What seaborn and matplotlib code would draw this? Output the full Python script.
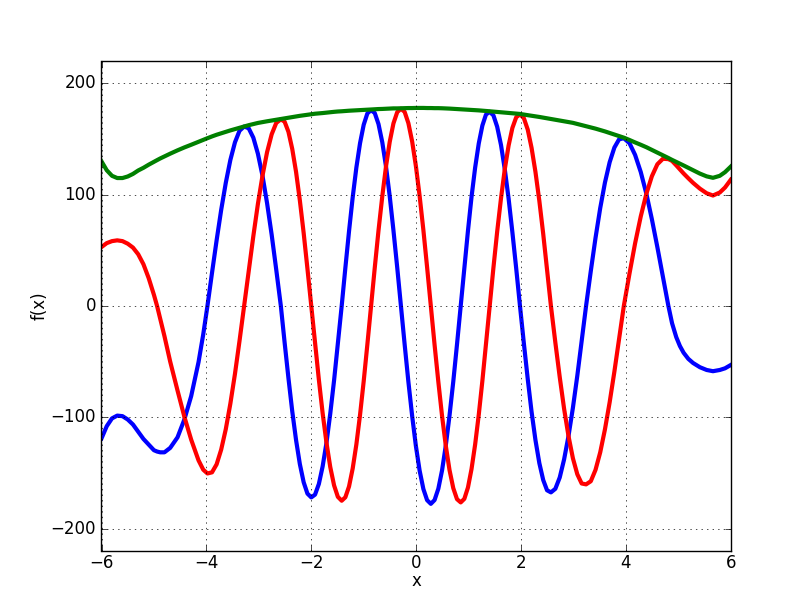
import matplotlib
matplotlib.use("Agg")
import matplotlib.pyplot as plt
import seaborn as sns
import pandas as pd

# x positions where the curves were read
x_vals = [-6.00, -5.90, -5.80, -5.70, -5.60, -5.50, -5.40, -5.30, -5.20, -5.10,
          -5.00, -4.94, -4.88, -4.80, -4.69, -4.55, -4.42, -4.29, -4.15, -4.06,
          -3.98, -3.893, -3.805, -3.718, -3.63, -3.543, -3.455, -3.368, -3.28, -3.193,
          -3.105, -3.018, -2.93, -2.843, -2.755, -2.668, -2.58, -2.508, -2.435, -2.363,
          -2.29, -2.218, -2.145, -2.073, -2.00, -1.928, -1.855, -1.783, -1.71, -1.638,
          -1.565, -1.493, -1.42, -1.35, -1.28, -1.21, -1.14, -1.07, -1.00, -0.93,
          -0.86, -0.789, -0.718, -0.646, -0.575, -0.504, -0.433, -0.361, -0.29, -0.219,
          -0.148, -0.076, -0.005, 0.066, 0.138, 0.209, 0.28, 0.351, 0.423, 0.494,
          0.565, 0.636, 0.708, 0.779, 0.85, 0.919, 0.988, 1.056, 1.125, 1.194,
          1.263, 1.331, 1.40, 1.473, 1.545, 1.618, 1.69, 1.763, 1.835, 1.908,
          1.98, 2.054, 2.128, 2.201, 2.275, 2.349, 2.423, 2.496, 2.57, 2.654,
          2.738, 2.821, 2.905, 2.989, 3.073, 3.156, 3.24, 3.33, 3.42, 3.51,
          3.60, 3.69, 3.78, 3.87, 3.96, 4.068, 4.175, 4.283, 4.39, 4.495,
          4.60, 4.705, 4.81, 4.88, 4.96, 5.03, 5.10, 5.19, 5.28, 5.41,
          5.54, 5.66, 5.79, 5.89, 6.00]

# blue curve
blue_vals = [-119.0, -108.0, -101.0, -98.5, -99.0, -102.0, -106.5, -113.0, -119.5, -124.5,
             -129.6, -130.8, -131.5, -131.5, -127.5, -118.0, -102.0, -81.0, -50.5, -25.5,
             0.0, 29.7, 59.0, 86.3, 110.7, 131.2, 147.1, 157.5, 161.3, 159.7,
             151.3, 136.9, 117.1, 92.5, 64.0, 32.7, 0.0, -32.9, -64.9, -94.5,
             -120.5, -142.0, -158.4, -168.6, -172.0, -169.5, -159.9, -144.1, -122.9, -96.8,
             -66.8, -34.1, 0.0, 34.2, 67.2, 97.7, 124.4, 146.3, 162.9, 173.1,
             176.0, 173.4, 163.5, 147.2, 125.4, 98.7, 68.0, 34.6, 0.0, -34.7,
             -68.1, -98.9, -125.8, -147.9, -164.5, -174.5, -177.8, -174.4, -164.2, -147.7,
             -125.5, -98.6, -67.9, -34.5, 0.0, 34.5, 67.6, 98.0, 124.4, 146.1,
             162.2, 172.0, 174.5, 171.4, 161.1, 144.7, 122.9, 96.5, 66.3, 33.7,
             0.0, -33.6, -65.7, -95.1, -120.5, -141.2, -156.4, -165.6, -167.5, -164.3,
             -154.1, -137.9, -116.9, -91.5, -62.7, -31.7, 0.0, 31.3, 61.1, 88.0,
             110.9, 129.2, 142.4, 149.8, 150.8, 146.3, 135.8, 120.4, 100.9, 78.0,
             52.8, 26.4, 0.0, -15.5, -28.0, -36.0, -42.0, -47.5, -51.2, -55.0,
             -57.5, -58.6, -57.5, -56.0, -53.0]

# red curve
red_vals = [53.0, 56.5, 58.3, 59.0, 58.3, 56.0, 52.5, 46.5, 37.5, 25.0,
            10.0, 0.0, -11.5, -27.0, -50.0, -76.0, -99.5, -120.1, -138.7, -147.1,
            -150.5, -149.5, -142.3, -129.1, -110.7, -87.8, -61.0, -31.3, 0.0, 31.7,
            62.7, 91.6, 117.1, 138.2, 154.3, 164.5, 167.8, 165.6, 156.5, 141.2,
            120.5, 95.0, 65.6, 33.5, 0.0, -33.7, -66.3, -96.4, -122.9, -144.7,
            -161.2, -171.5, -175.0, -171.9, -162.2, -146.0, -124.4, -97.9, -67.5, -34.4,
            0.0, 34.5, 67.8, 98.5, 125.4, 147.5, 164.1, 174.2, 177.3, 174.4,
            164.3, 147.8, 125.8, 99.0, 68.2, 34.7, 0.0, -34.7, -68.1, -98.8,
            -125.5, -147.4, -163.7, -173.6, -176.5, -173.3, -163.1, -146.5, -124.4, -97.7,
            -67.2, -34.2, 0.0, 34.1, 66.8, 96.8, 122.9, 144.2, 160.0, 169.6,
            172.3, 168.8, 158.5, 142.1, 120.5, 94.5, 64.8, 32.9, 0.0, -32.7,
            -63.9, -92.3, -116.9, -136.8, -151.2, -159.5, -160.3, -157.5, -147.3, -131.5,
            -110.9, -86.5, -59.0, -29.8, 0.0, 29.1, 56.3, 80.5, 100.9, 116.6,
            127.4, 132.3, 132.0, 130.4, 126.4, 122.7, 119.1, 114.8, 110.7, 105.5,
            101.3, 99.3, 102.0, 106.5, 113.5]

# green curve
green_vals = [130.0, 122.0, 117.0, 115.0, 115.0, 116.4, 118.7, 121.8, 124.2, 127.0,
              129.6, 131.1, 132.6, 134.4, 136.9, 139.9, 142.5, 144.9, 147.6, 149.3,
              150.8, 152.4, 153.9, 155.2, 156.5, 157.8, 159.0, 160.2, 161.4, 162.5,
              163.5, 164.5, 165.3, 166.0, 166.7, 167.4, 168.0, 168.6, 169.2, 169.8,
              170.4, 170.9, 171.4, 171.9, 172.4, 172.8, 173.1, 173.4, 173.8, 174.1,
              174.5, 174.8, 175.0, 175.3, 175.5, 175.7, 175.9, 176.1, 176.3, 176.5,
              176.6, 176.8, 177.0, 177.1, 177.3, 177.5, 177.6, 177.6, 177.7, 177.8,
              177.9, 177.9, 178.0, 178.0, 178.0, 177.9, 177.9, 177.8, 177.8, 177.7,
              177.5, 177.4, 177.2, 177.0, 176.9, 176.7, 176.5, 176.3, 176.0, 175.8,
              175.5, 175.3, 175.0, 174.7, 174.4, 174.1, 173.8, 173.5, 173.2, 172.9,
              172.6, 172.1, 171.5, 171.0, 170.4, 169.9, 169.3, 168.8, 168.2, 167.5,
              166.8, 166.0, 165.3, 164.6, 163.6, 162.6, 161.6, 160.5, 159.4, 158.2,
              156.9, 155.5, 154.1, 152.7, 151.3, 149.2, 147.0, 144.9, 142.7, 140.3,
              137.9, 135.4, 133.0, 131.3, 129.5, 127.9, 126.3, 124.2, 122.0, 119.0,
              116.5, 115.2, 117.0, 120.3, 125.3]

x_ticks = [-6, -4, -2, 0, 2, 4, 6]
y_ticks = [-200, -100, 0, 100, 200]
x_label = "x"
y_label = "f(x)"

plt.style.use("classic")
plt.rcParams["figure.facecolor"] = "white"
plt.rcParams["savefig.facecolor"] = "white"
plt.rcParams["font.family"] = ["DejaVu Sans"]

df = pd.DataFrame({"x": x_vals, "blue": blue_vals, "red": red_vals, "green": green_vals})

fig, ax = plt.subplots(figsize=(8.12, 6.12), dpi=100)
fig.subplots_adjust(left=0.125, right=0.9, bottom=0.1, top=0.9)

sns.lineplot(data=df, x="x", y="blue", color="b", lw=3, ax=ax, sort=False)
sns.lineplot(data=df, x="x", y="red", color="r", lw=3, ax=ax, sort=False)
sns.lineplot(data=df, x="x", y="green", color="g", lw=3, ax=ax, sort=False)

ax.set_xlim(-6, 6)
ax.set_ylim(-220, 220)
ax.set_xticks(x_ticks)
ax.set_yticks(y_ticks)
ax.grid(True, color="k", linestyle=":", linewidth=0.5)
ax.tick_params(direction="in", top=True, right=True, labelsize=12)
ax.tick_params(axis="x", pad=2)
ax.set_xlabel(x_label, fontsize=12, labelpad=0)
ax.set_ylabel(y_label, fontsize=12, labelpad=1.5)

fig.savefig("out.png", dpi=100)
